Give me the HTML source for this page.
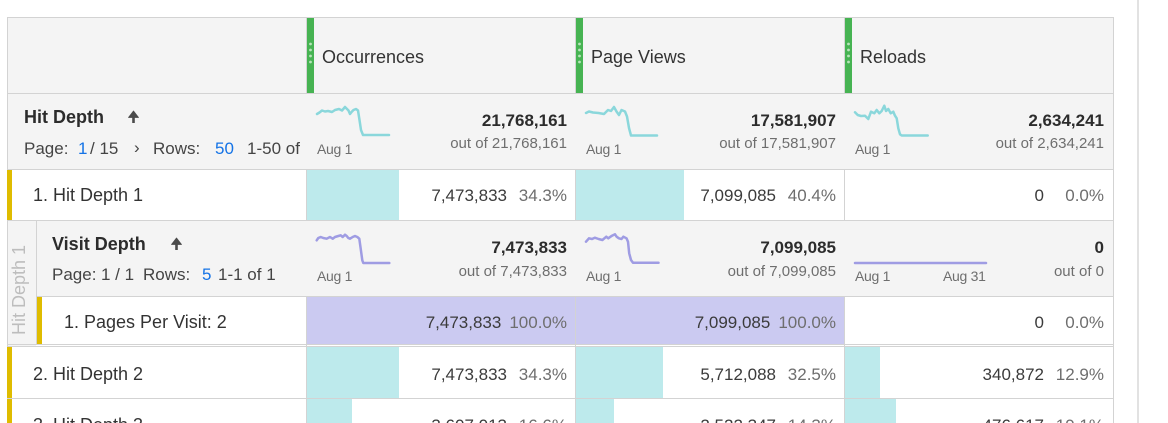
<!DOCTYPE html>
<html><head><meta charset="utf-8"><style>
*{margin:0;padding:0;box-sizing:border-box}
html,body{width:1168px;height:423px;overflow:hidden;background:#fff}
body{position:relative;font-family:"Liberation Sans",Arial,sans-serif;color:#2c2c2c}
.a{position:absolute;white-space:nowrap}
.bg{position:absolute;background:#f4f4f4}
.r{position:absolute}
.h{position:absolute;height:1px;background:#d3d3d3}
.v{position:absolute;width:1px;background:#d3d3d3}
.t18{font-size:18px;line-height:18px}
.t17{font-size:17px;line-height:17px}
.b{font-weight:bold}
.blue{color:#1473e6}
.g{color:#6e6e6e}
.val{position:absolute;white-space:nowrap;font-size:17px;line-height:17px;color:#3b3b3b;text-align:right}
.val .p{display:inline-block;min-width:52px;margin-left:8px;text-align:right;color:#6e6e6e}
.sb{position:absolute;white-space:nowrap;text-align:right;font-size:17px;line-height:17px;font-weight:bold;color:#2c2c2c}
.so{position:absolute;white-space:nowrap;text-align:right;font-size:15px;line-height:15px;color:#6e6e6e}
.aug{position:absolute;white-space:nowrap;font-size:14px;line-height:14px;color:#6e6e6e;letter-spacing:-0.3px}
.cy{position:absolute;background:#bdeaec}
.pu{position:absolute;background:#cbcaf1}
.gr{position:absolute;background:#46b352;width:7px;top:18px;height:75px}
.ye{position:absolute;background:#dfbc00;width:5px}
</style></head><body>

<!-- backgrounds -->
<div class="bg" style="left:7px;top:17px;width:1106px;height:153px"></div>
<div class="bg" style="left:7px;top:220px;width:29px;height:126px"></div>
<div class="bg" style="left:36px;top:220px;width:1077px;height:77px"></div>

<!-- bars row1 -->
<div class="cy" style="left:307px;top:170px;width:92px;height:50px"></div>
<div class="cy" style="left:576px;top:170px;width:108px;height:50px"></div>
<!-- purple pages row -->
<div class="pu" style="left:307px;top:297px;width:268px;height:47px"></div>
<div class="pu" style="left:576px;top:297px;width:268px;height:47px"></div>
<!-- row2 -->
<div class="cy" style="left:307px;top:347px;width:92px;height:51px"></div>
<div class="cy" style="left:576px;top:347px;width:87px;height:51px"></div>
<div class="cy" style="left:845px;top:347px;width:35px;height:51px"></div>
<!-- row3 -->
<div class="cy" style="left:307px;top:399px;width:45px;height:24px"></div>
<div class="cy" style="left:576px;top:399px;width:38px;height:24px"></div>
<div class="cy" style="left:845px;top:399px;width:51px;height:24px"></div>

<!-- lines -->
<div class="h" style="left:7px;top:17px;width:1107px"></div>
<div class="h" style="left:7px;top:93px;width:1107px"></div>
<div class="h" style="left:7px;top:169px;width:1107px"></div>
<div class="h" style="left:7px;top:220px;width:1107px"></div>
<div class="h" style="left:36px;top:296px;width:1078px"></div>
<div class="h" style="left:7px;top:344px;width:1107px"></div>
<div class="h" style="left:7px;top:346px;width:1107px"></div>
<div class="h" style="left:7px;top:398px;width:1107px"></div>

<div class="v" style="left:7px;top:17px;height:406px"></div>
<div class="v" style="left:1113px;top:17px;height:406px"></div>
<div class="v" style="left:36px;top:220px;height:125px"></div>

<div class="v" style="left:306px;top:17px;height:76px"></div>
<div class="v" style="left:575px;top:17px;height:76px"></div>
<div class="v" style="left:844px;top:17px;height:76px"></div>
<div class="v" style="left:306px;top:169px;height:51px"></div>
<div class="v" style="left:575px;top:169px;height:51px"></div>
<div class="v" style="left:844px;top:169px;height:51px"></div>
<div class="v" style="left:306px;top:296px;height:127px"></div>
<div class="v" style="left:575px;top:296px;height:127px"></div>
<div class="v" style="left:844px;top:296px;height:127px"></div>

<div class="r" style="left:1137px;top:0;width:2px;height:423px;background:#e2e2e2"></div>

<!-- green header bars -->
<div class="gr" style="left:307px"></div>
<div class="gr" style="left:576px"></div>
<div class="gr" style="left:845px"></div>

<!-- yellow bars -->
<div class="ye" style="left:7px;top:170px;height:50px"></div>
<div class="ye" style="left:7px;top:347px;height:51px"></div>
<div class="ye" style="left:7px;top:399px;height:24px"></div>
<div class="ye" style="left:37px;top:297px;height:47px"></div>

<!-- SVG overlay -->
<svg class="r" style="left:0;top:0" width="1168" height="423" viewBox="0 0 1168 423">
  <g fill="#b6e4b9">
    <circle cx="310.5" cy="44" r="1.4"/><circle cx="310.5" cy="50" r="1.4"/><circle cx="310.5" cy="56" r="1.4"/><circle cx="310.5" cy="62" r="1.4"/>
    <circle cx="579.5" cy="44" r="1.4"/><circle cx="579.5" cy="50" r="1.4"/><circle cx="579.5" cy="56" r="1.4"/><circle cx="579.5" cy="62" r="1.4"/>
    <circle cx="848.5" cy="44" r="1.4"/><circle cx="848.5" cy="50" r="1.4"/><circle cx="848.5" cy="56" r="1.4"/><circle cx="848.5" cy="62" r="1.4"/>
  </g>
  <g fill="none" stroke="#8ad7db" stroke-width="2.5" stroke-linejoin="round" stroke-linecap="round">
    <polyline points="317,114 319.5,112.5 322,110.5 325,111.5 328,111 332,112 335,110 339,109 342,110.5 345,107 347,109 348.5,110.5 350,114 352,111.5 353.5,110 356,109 358,110.5 359.5,120 361,130 363,135 389,135"/>
    <polyline points="586,113 589,111.5 593,112.5 598.5,113 604,114 608,110 611,111 614,107 616.5,111.5 619,115 621.5,110 625,111.5 627,116.5 629,128 631,135.5 657,135.5"/>
    <polyline points="855,112.3 857.7,115 861,116 865,115.7 868.3,119 871,111.7 874.3,113.3 876.7,110 879.3,113.3 881.7,111 884.3,105.7 886,111 888.3,109 890.7,113.3 893.3,111.7 895,115.7 896.7,118.3 898.3,128.3 900,134.3 901.7,135.5 927.7,135.5"/>
  </g>
  <g fill="none" stroke="#9f9ce3" stroke-width="2.5" stroke-linejoin="round" stroke-linecap="round">
    <polyline points="316.7,240.3 318.3,238 320.7,237 323.3,238 326.7,238.7 330,237 332.7,238.7 335,237 338.3,236 340.7,235.3 342.7,237 345,234.7 346.7,236 348.3,238 350,238.7 352.7,237 355,236 357.3,237 359.3,238.7 360.7,248.7 362.3,260.3 363.3,263 389.3,263"/>
    <polyline points="586,241.7 589,238.3 592,239 594.8,237.7 598.6,239 602.4,240 606.3,236.7 608.2,238.3 612,235.7 615,234.3 616.6,236.7 618.9,238.3 621.5,239 623.4,236.7 626.5,238.3 628,241.7 629.2,253.3 631,260 633,262.7 658.5,262.7"/>
    <polyline points="855,263 986,263"/>
  </g>
  <g fill="#4b4b4b" stroke="#4b4b4b">
    <line x1="133.5" y1="115" x2="133.5" y2="123" stroke-width="2.6"/>
    <polygon points="128.5,117.5 133.5,111 138.5,117.5" stroke-width="0.8" stroke-linejoin="round"/>
    <line x1="176.5" y1="242" x2="176.5" y2="250" stroke-width="2.6"/>
    <polygon points="171.5,244.5 176.5,238 181.5,244.5" stroke-width="0.8" stroke-linejoin="round"/>
  </g>
</svg>

<!-- header text -->
<div class="a t18" style="left:322px;top:48px;color:#333">Occurrences</div>
<div class="a t18" style="left:591px;top:48px;color:#333">Page Views</div>
<div class="a t18" style="left:860px;top:48px;color:#333">Reloads</div>

<!-- Hit Depth summary -->
<div class="a t18 b" style="left:24px;top:108px">Hit Depth</div>
<div class="a t17" style="left:24px;top:140px;color:#444">Page:</div>
<div class="a t17 blue" style="left:78px;top:140px">1</div>
<div class="a t17" style="left:90px;top:140px;color:#444">/ 15</div>
<div class="a t17" style="left:134px;top:139px;color:#444">›</div>
<div class="a t17" style="left:153px;top:140px;color:#444">Rows:</div>
<div class="a t17 blue" style="left:215px;top:140px">50</div>
<div class="a t17" style="left:247px;top:140px;color:#444">1-50 of</div>

<div class="aug" style="left:317px;top:142px">Aug 1</div>
<div class="aug" style="left:586px;top:142px">Aug 1</div>
<div class="aug" style="left:855px;top:142px">Aug 1</div>

<div class="sb" style="right:601px;top:112px">21,768,161</div>
<div class="so" style="right:601px;top:136px">out of 21,768,161</div>
<div class="sb" style="right:332px;top:112px">17,581,907</div>
<div class="so" style="right:332px;top:136px">out of 17,581,907</div>
<div class="sb" style="right:64px;top:112px">2,634,241</div>
<div class="so" style="right:64px;top:136px">out of 2,634,241</div>

<!-- Row 1 -->
<div class="a t18" style="left:33px;top:186px;color:#333">1. Hit Depth 1</div>
<div class="val" style="right:601px;top:187px">7,473,833<span class="p">34.3%</span></div>
<div class="val" style="right:332px;top:187px">7,099,085<span class="p">40.4%</span></div>
<div class="val" style="right:64px;top:187px">0<span class="p">0.0%</span></div>

<!-- nested -->
<div class="a" style="left:-41px;top:280px;width:120px;height:20px;line-height:20px;font-size:18px;color:#bdbdbd;text-align:center;transform:rotate(-90deg)">Hit Depth 1</div>

<div class="a t18 b" style="left:52px;top:235px">Visit Depth</div>
<div class="a t17" style="left:52px;top:266px;color:#444">Page:</div>
<div class="a t17" style="left:101px;top:266px;color:#444">1 / 1</div>
<div class="a t17" style="left:143px;top:266px;color:#444">Rows:</div>
<div class="a t17 blue" style="left:202px;top:266px">5</div>
<div class="a t17" style="left:218px;top:266px;color:#444">1-1 of 1</div>

<div class="aug" style="left:317px;top:269px">Aug 1</div>
<div class="aug" style="left:586px;top:269px">Aug 1</div>
<div class="aug" style="left:855px;top:269px">Aug 1</div>
<div class="aug" style="left:943px;top:269px">Aug 31</div>

<div class="sb" style="right:601px;top:239px">7,473,833</div>
<div class="so" style="right:601px;top:264px">out of 7,473,833</div>
<div class="sb" style="right:332px;top:239px">7,099,085</div>
<div class="so" style="right:332px;top:264px">out of 7,099,085</div>
<div class="sb" style="right:64px;top:239px">0</div>
<div class="so" style="right:64px;top:264px">out of 0</div>

<div class="a t18" style="left:64px;top:313px;color:#333">1. Pages Per Visit: 2</div>
<div class="val" style="right:601px;top:314px">7,473,833<span class="p">100.0%</span></div>
<div class="val" style="right:332px;top:314px">7,099,085<span class="p">100.0%</span></div>
<div class="val" style="right:64px;top:314px">0<span class="p">0.0%</span></div>

<!-- Row 2 -->
<div class="a t18" style="left:33px;top:365px;color:#333">2. Hit Depth 2</div>
<div class="val" style="right:601px;top:366px">7,473,833<span class="p">34.3%</span></div>
<div class="val" style="right:332px;top:366px">5,712,088<span class="p">32.5%</span></div>
<div class="val" style="right:64px;top:366px">340,872<span class="p">12.9%</span></div>

<!-- Row 3 -->
<div class="a t18" style="left:33px;top:416px;color:#333">3. Hit Depth 3</div>
<div class="val" style="right:601px;top:417px">3,607,013<span class="p">16.6%</span></div>
<div class="val" style="right:332px;top:417px">2,522,347<span class="p">14.3%</span></div>
<div class="val" style="right:64px;top:417px">476,617<span class="p">19.1%</span></div>

</body></html>
